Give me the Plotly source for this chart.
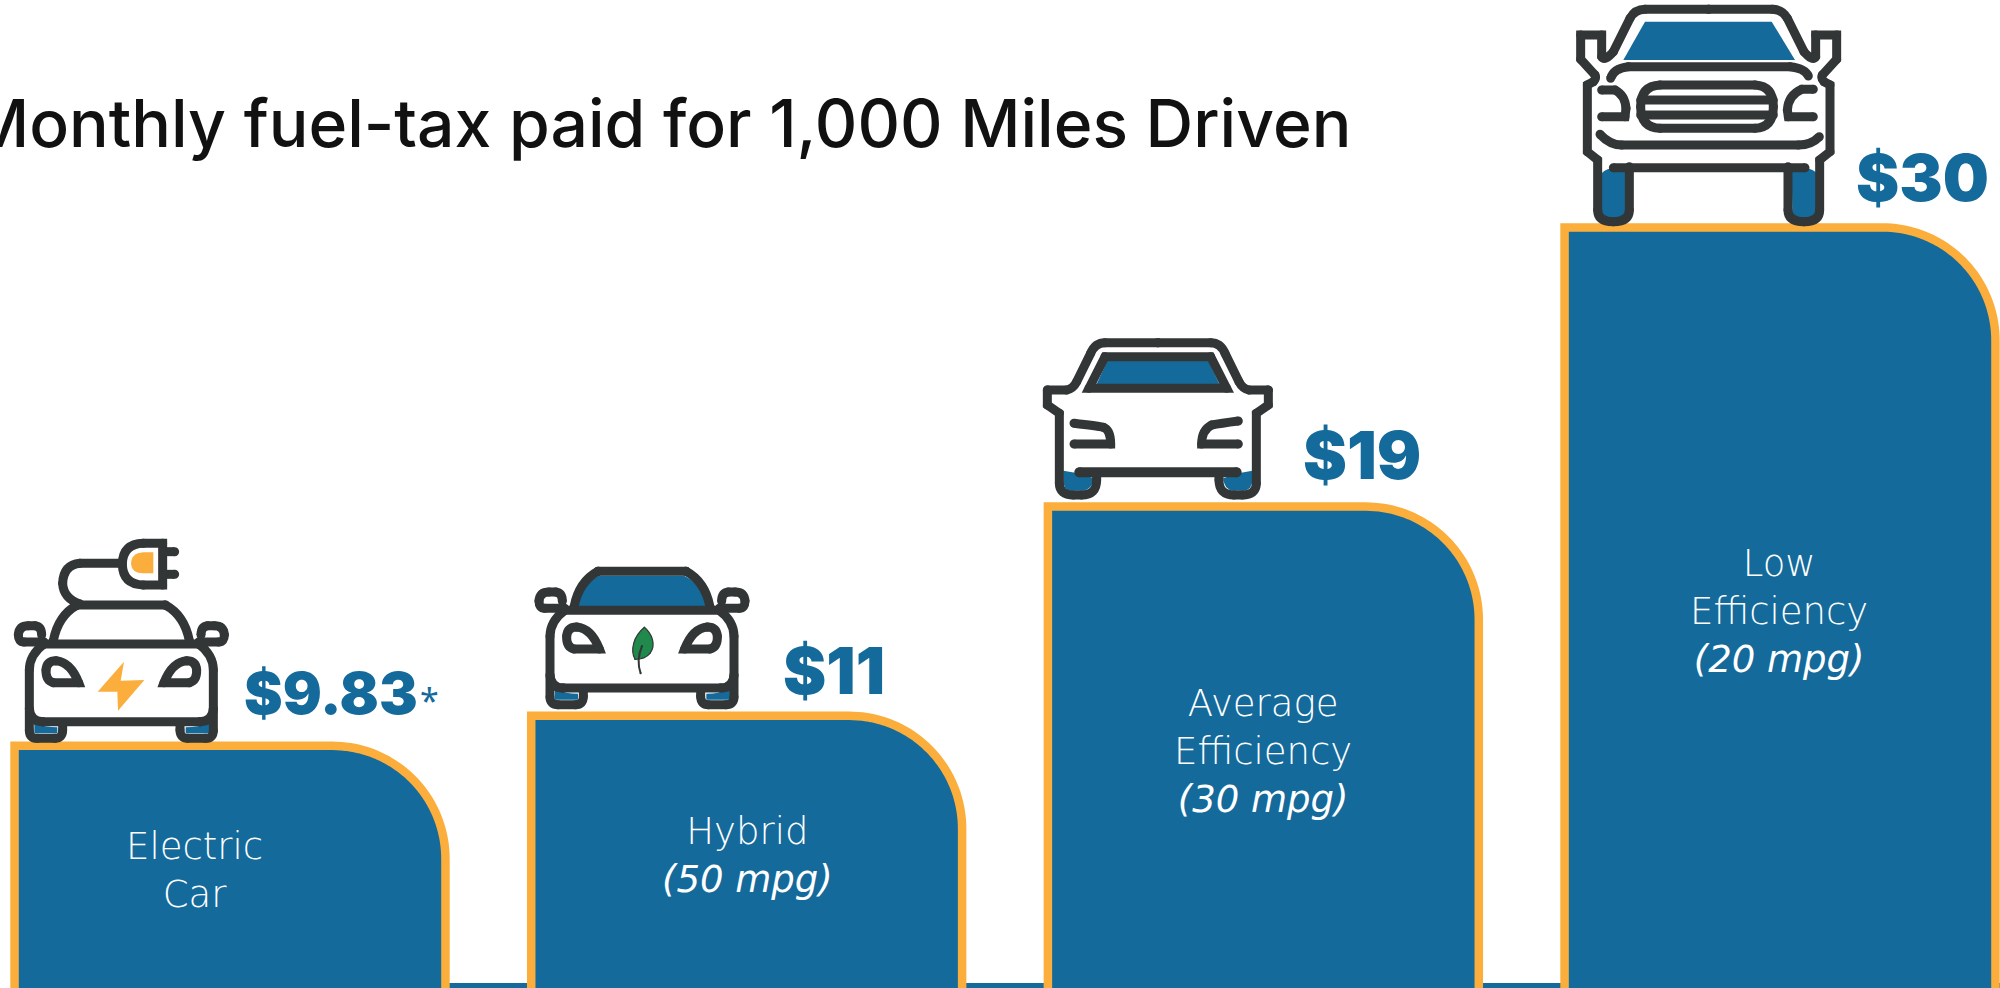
import re
import math
import plotly.graph_objects as go

# ---------- data ----------
categories = ["Electric Car", "Hybrid", "Average Efficiency", "Low Efficiency"]
bar_values = [9.83, 11.0, 19.14, 30.0]
value_labels = ["$9.83", "$11", "$19", "$30"]
category_labels = [
    "Electric<br>Car",
    "Hybrid<br><i>(50 mpg)</i>",
    "Average<br>Efficiency<br><i>(30 mpg)</i>",
    "Low<br>Efficiency<br><i>(20 mpg)</i>",
]
title_text = "Monthly fuel-tax paid for 1,000 Miles Driven"
footnote_mark = "*"

# ---------- style ----------
W, H = 2000, 988
BLUE = "#146A9B"
ORANGE = "#FBAE3B"
DARK = "#333637"
GREEN = "#1F8A4C"
STEP_PX = 516.67       # px per category
FIRST_CENTER_PX = 230.0
BAR_W = 0.834          # in category units
PX_PER_DOLLAR = 25.7
ZERO_PX = 998.5
RADIUS_PX = 113.0
STROKE = 9

x_range = [-FIRST_CENTER_PX / STEP_PX, (W - FIRST_CENTER_PX) / STEP_PX]
y_range = [(ZERO_PX - H) / PX_PER_DOLLAR, ZERO_PX / PX_PER_DOLLAR]

# ---------- icon helpers (icons are decoration drawn from zoom-space outlines) ----------
KAPPA = 0.5523


def parse(path):
    return re.findall(r"[MLQCZ]|-?\d+\.?\d*", path)


def to_paper(path, ox, oy):
    out, vertices, i, toks = [], [], 0, parse(path)
    while i < len(toks):
        t = toks[i]
        if t in "MLQCZ":
            out.append(t)
            i += 1
            n = {"M": 1, "L": 1, "Q": 2, "C": 3, "Z": 0}[t]
            for k in range(n):
                px = ox + float(toks[i]) / 3
                py = oy + float(toks[i + 1]) / 3
                out.append(f"{px / W:.5f},{1 - py / H:.5f}")
                if k == n - 1:
                    vertices.append((px, py))
                i += 2
        else:
            i += 1
    return " ".join(out), vertices


def dots(vertices, r):
    parts = []
    for (x, y) in vertices:
        c = r * KAPPA
        def p(a, b):
            return f"{a / W:.5f},{1 - b / H:.5f}"
        parts.append(
            f"M {p(x + r, y)} C {p(x + r, y + c)} {p(x + c, y + r)} {p(x, y + r)} "
            f"C {p(x - c, y + r)} {p(x - r, y + c)} {p(x - r, y)} "
            f"C {p(x - r, y - c)} {p(x - c, y - r)} {p(x, y - r)} "
            f"C {p(x + c, y - r)} {p(x + r, y - c)} {p(x + r, y)} Z"
        )
    return " ".join(parts)


shapes = []


def fill(path, ox, oy, color):
    d, _ = to_paper(path, ox, oy)
    shapes.append(dict(type="path", xref="paper", yref="paper", path=d,
                       fillcolor=color, line=dict(width=0), fillrule="nonzero", layer="above"))


def stroke(path, ox, oy, width=STROKE, color=DARK):
    d, v = to_paper(path, ox, oy)
    shapes.append(dict(type="path", xref="paper", yref="paper", path=d,
                       line=dict(color=color, width=width), layer="above"))
    shapes.append(dict(type="path", xref="paper", yref="paper", path=dots(v, width / 2),
                       fillcolor=color, line=dict(width=0), fillrule="nonzero", layer="above"))


def mirror(path, c):
    toks, out, i = parse(path), [], 0
    while i < len(toks):
        if toks[i] in "MLQCZ":
            out.append(toks[i])
            i += 1
        else:
            out.append(str(2 * c - float(toks[i])))
            out.append(toks[i + 1])
            i += 2
    return " ".join(out)


def sedan(ox, oy):
    c = 364
    left = [
        "M 160 362 C 170 310 195 275 232 255",
        "M 132 372 C 105 392 88 415 88 450 L 88 632 Q 88 655 112 655 L 165 655 Q 188 655 188 630 L 188 608",
        "M 132 366 L 72 366 Q 55 366 55 344 Q 57 317 85 317 L 105 317 Q 125 319 125 345",
        "M 88 565 Q 90 605 128 605",
        "M 160 488 Q 137 482 138 450 Q 140 422 168 422 Q 212 426 236 488 L 160 488 Z",
    ]
    for s in left:
        stroke(s, ox, oy)
        stroke(mirror(s, c), ox, oy)
    stroke("M 132 372 L 596 372", ox, oy)
    stroke("M 128 605 L 600 605", ox, oy)
    stroke("M 232 255 L 496 255", ox, oy)


# --- electric car
ex, ey = 0, 520
fill("M 103 610 Q 135 622 172 622 L 172 640 L 103 640 Z", ex, ey, BLUE)
fill("M 557 622 Q 595 622 628 610 L 628 640 L 557 640 Z", ex, ey, BLUE)
sedan(ex, ey)
fill("M 372 425 L 293 515 L 352 515 L 354 572 L 433 480 L 362 482 Z", ex, ey, ORANGE)
fill("M 460 97 L 430 97 Q 393 100 393 132 Q 395 160 430 160 L 460 160 Z", ex, ey, ORANGE)
stroke("M 488 70 L 430 70 Q 368 72 367 132 Q 368 193 430 195 L 488 195 Z", ex, ey)
stroke("M 490 95 L 524 95", ex, ey)
stroke("M 490 163 L 524 163", ex, ey)
stroke("M 360 130 L 240 130 Q 190 135 188 190 Q 190 235 240 252", ex, ey)

# --- hybrid car
hx, hy = 510 + 32 / 3, 540 - 161 / 3
fill("M 103 610 Q 135 622 172 622 L 172 640 L 103 640 Z", hx, hy, BLUE)
fill("M 557 622 Q 595 622 628 610 L 628 640 L 557 640 Z", hx, hy, BLUE)
fill("M 170 362 C 180 310 200 285 235 268 L 490 268 C 525 285 545 310 560 362 Z", hx, hy, BLUE)
sedan(hx, hy)
lx, ly = 510, 540
fill("M 403 262 C 425 280 440 315 420 340 C 410 352 395 358 375 358 C 360 330 370 290 403 262 Z", lx, ly, GREEN)
stroke("M 396 318 Q 378 360 392 400", lx, ly, width=2)
stroke("M 403 262 C 425 280 440 315 420 340 C 410 352 395 358 375 358 C 360 330 370 290 403 262 Z", lx, ly, width=1.2)

# --- average car
ax, ay = 1020, 320
fill("M 130 452 L 175 460 L 222 475 Q 215 512 185 512 L 150 512 Q 130 510 130 480 Z", ax, ay, BLUE)
fill("M 610 475 L 655 460 L 697 452 L 697 480 Q 697 510 670 512 L 640 512 Q 612 510 610 475 Z", ax, ay, BLUE)
fill("M 230 192 L 262 122 L 565 122 L 598 192 Z", ax, ay, BLUE)
for s in [
    "M 82 210 L 140 210 Q 160 205 170 185 L 212 100 Q 225 68 255 68 L 413 68",
    "M 82 210 L 82 255 L 118 280 L 118 490 Q 118 525 160 525 L 185 525 Q 230 525 230 480 L 230 460",
]:
    stroke(s, ax, ay)
    stroke(mirror(s, 413.5), ax, ay)
stroke("M 207 205 L 255 110 L 572 110 L 620 205 Z", ax, ay)
stroke("M 178 457 L 650 457", ax, ay, width=10)
stroke("M 162 310 Q 230 318 250 322 Q 272 330 272 372 L 162 372", ax, ay)
stroke("M 655 303 Q 600 310 575 315 Q 545 330 545 372 L 655 372", ax, ay)

# --- low efficiency car
tx, ty = 1550, 0
fill("M 155 520 Q 170 505 190 505 L 228 515 L 228 630 Q 225 655 190 655 Q 155 655 155 630 Z", tx, ty, BLUE)
fill("M 725 515 L 770 505 Q 790 508 800 520 L 800 630 Q 800 655 762 655 Q 727 655 727 630 Z", tx, ty, BLUE)
fill("M 285 65 L 665 65 L 735 180 L 220 180 Z", tx, ty, BLUE)
for s in [
    "M 476 28 L 285 28 Q 255 28 240 55 L 190 155 Q 165 185 155 170 L 155 105 L 92 105 L 92 178 L 135 225 "
    "Q 140 235 130 245 L 112 255 L 112 455 L 143 480 L 143 630 Q 143 665 190 665 Q 238 665 238 630 L 238 500",
]:
    stroke(s, tx, ty)
    stroke(mirror(s, 476), tx, ty)
stroke("M 182 235 Q 190 205 235 200 L 720 200 Q 765 205 775 228", tx, ty)
stroke("M 330 255 L 615 255 Q 670 258 670 320 Q 670 382 615 385 L 330 385 Q 272 382 272 320 Q 272 258 330 255 Z", tx, ty)
stroke("M 272 300 L 670 300", tx, ty)
stroke("M 272 345 L 670 345", tx, ty)
stroke("M 155 270 L 195 270 Q 225 285 228 325 L 225 350 L 155 350", tx, ty)
stroke("M 790 268 L 755 268 Q 715 285 712 330 L 715 350 L 790 350", tx, ty)
stroke("M 150 403 Q 180 435 215 435 L 745 435 Q 785 435 808 410", tx, ty)
stroke("M 190 503 L 765 503", tx, ty)

# baseline strip under the gaps
shapes.insert(0, dict(type="rect", xref="paper", yref="paper", x0=442 / W, x1=1, y0=0, y1=5 / H,
                      fillcolor=BLUE, line=dict(width=0), layer="below"))

# ---------- bars: rounded top-right corner, built on the chart's own axes ----------
fig = go.Figure()
rx = RADIUS_PX / STEP_PX
ry = RADIUS_PX / PX_PER_DOLLAR
ARC_STEPS = 40
for i, (name, v) in enumerate(zip(categories, bar_values)):
    left, right = i - BAR_W / 2, i + BAR_W / 2
    xs = [left, left]
    ys = [0, v]
    for k in range(ARC_STEPS + 1):
        t = k / ARC_STEPS * math.pi / 2
        xs.append(right - rx + rx * math.sin(t))
        ys.append(v - ry + ry * math.cos(t))
    xs += [right, left]
    ys += [0, 0]
    fig.add_trace(go.Scatter(x=xs, y=ys, mode="lines", fill="toself", fillcolor=BLUE,
                             line=dict(color=ORANGE, width=8.5, simplify=False), name=name,
                             showlegend=False, hoverinfo="name"))

# ---------- text ----------
value_pos = [(331, 693), (834, 670), (1362, 455), (1922, 177)]
value_sizes = [58, 65, 66, 65]
label_pos = [(194, 870), (747, 855), (1263, 751), (1779, 611)]
LABEL_FONT = dict(family="DejaVu Sans", size=37, color="#FFFFFF", weight=200)
annotations = [dict(text=title_text, xref="paper", yref="paper", x=1353 / W, y=1 - 123 / H,
                    xanchor="right", yanchor="middle", showarrow=False,
                    font=dict(family="Inter", size=66, color="#111111", weight=500))]
for t, (x, y), s in zip(value_labels, value_pos, value_sizes):
    annotations.append(dict(text=t, xref="paper", yref="paper", x=x / W, y=1 - y / H,
                            xanchor="center", yanchor="middle", showarrow=False,
                            font=dict(family="Inter", size=s, color=BLUE, weight=900)))
annotations.append(dict(text=footnote_mark, xref="paper", yref="paper", x=429 / W, y=1 - 700 / H,
                        xanchor="center", yanchor="middle", showarrow=False,
                        font=dict(family="Noto Sans", size=34, color=BLUE)))
for t, (x, y) in zip(category_labels, label_pos):
    annotations.append(dict(text=t, xref="paper", yref="paper", x=x / W, y=1 - y / H,
                            xanchor="center", yanchor="middle", showarrow=False, font=LABEL_FONT))

fig.update_layout(
    width=W, height=H, margin=dict(l=0, r=0, t=0, b=0), autosize=False,
    paper_bgcolor="white", plot_bgcolor="white", showlegend=False,
    xaxis=dict(range=x_range, visible=False, fixedrange=True),
    yaxis=dict(range=y_range, visible=False, fixedrange=True),
    shapes=shapes, annotations=annotations,
)
fig.write_html("out.html", config=dict(displayModeBar=False),
               post_script="document.body.style.margin='0';document.documentElement.style.overflow='hidden';")
